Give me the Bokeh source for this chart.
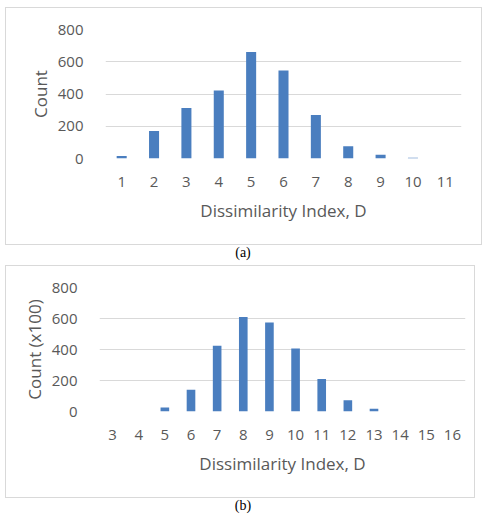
from bokeh.plotting import figure
from bokeh.layouts import column
from bokeh.models import Div, Range1d, FactorRange, FixedTicker, ColumnDataSource
from bokeh.embed import file_html
from bokeh.resources import INLINE

# Panel (a): counts per dissimilarity index
d_a = ["1", "2", "3", "4", "5", "6", "7", "8", "9", "10", "11"]
count_a = [15, 171, 313, 421, 660, 546, 269, 76, 23, 4, 0]

# Panel (b): counts (x100) per dissimilarity index
d_b = ["3", "4", "5", "6", "7", "8", "9", "10", "11", "12", "13", "14", "15", "16"]
count_b = [0, 0, 26, 140, 424, 609, 574, 407, 209, 72, 17, 0, 0, 0]

y_ticks = [0, 200, 400, 600, 800]

BAR = "#4a7ebf"
GRID = "#d9d9d9"
TXT = "#595959"
FONT = "Open Sans"


def make_panel(cats, vals, ylabel, frame_w, frame_h,
               left, right, top, bottom, margin, bar_w):
    src = ColumnDataSource(dict(x=cats, y=vals))
    p = figure(x_range=FactorRange(*cats, range_padding=0),
               y_range=Range1d(0, 800),
               frame_width=frame_w, frame_height=frame_h,
               min_border_left=left, min_border_right=right,
               min_border_top=top, min_border_bottom=bottom,
               output_backend="svg", toolbar_location=None,
               margin=margin,
               styles={"border": f"1px solid {GRID}"})
    p.vbar(x="x", top="y", width=bar_w, source=src, color=BAR, line_color=None)
    p.outline_line_color = None
    p.xgrid.grid_line_color = None
    p.ygrid.grid_line_color = GRID
    p.ygrid.grid_line_width = 1
    p.yaxis.ticker = FixedTicker(ticks=y_ticks)
    for ax in (p.xaxis[0], p.yaxis[0]):
        ax.axis_line_color = None
        ax.major_tick_line_color = None
        ax.minor_tick_line_color = None
        ax.major_label_text_font = FONT
        ax.major_label_text_font_size = "15px"
        ax.major_label_text_color = TXT
        ax.axis_label_text_font = FONT
        ax.axis_label_text_font_size = "17px"
        ax.axis_label_text_font_style = "normal"
        ax.axis_label_text_color = TXT
    p.xaxis.major_label_standoff = 12
    p.xaxis.axis_label_standoff = 9
    p.yaxis.major_label_standoff = 16
    p.yaxis.axis_label_standoff = 3
    p.xaxis.axis_label = "Dissimilarity Index, D"
    p.yaxis.axis_label = ylabel
    return p


def caption(txt, h):
    html = ('<div style="width:486px;text-align:center;font-family:\'Liberation Serif\';'
            'font-size:14px;line-height:14px;color:#000">%s</div>' % txt)
    return Div(text=html, width=486, height=h, margin=(0, 0, 0, 0))


pa = make_panel(d_a, count_a, "Count", 354, 127,
                99, 22, 21, 88, (7, 0, 0, 5), 0.31)
pb = make_panel(d_b, count_b, "Count (x100)", 364, 122,
                93, 11, 21, 88, (0, 0, 0, 5), 0.33)

# each panel sits in its own column so the two plot frames are laid out independently
layout = column(column(pa), caption("(a)", 20), column(pb), caption("(b)", 14), spacing=0)

open("out.html", "w").write(file_html(layout, INLINE))
